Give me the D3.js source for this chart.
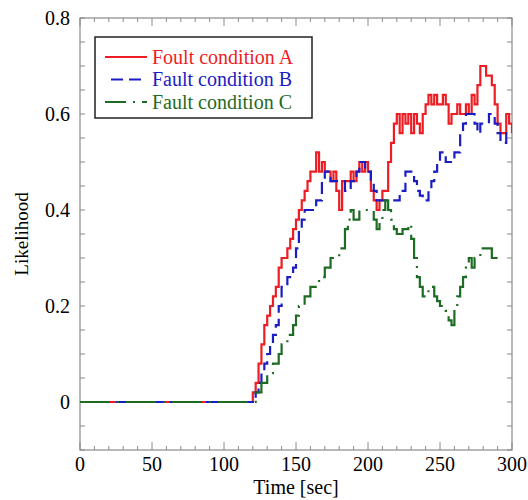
<!DOCTYPE html>
<html>
<head>
<meta charset="utf-8">
<script src="https://cdn.jsdelivr.net/npm/d3@7"></script>
<style>
  body { margin: 0; background: #fff; }
</style>
</head>
<body>
<div id="chart"></div>
<script>
// time samples [sec]
var times = [0, 120, 122, 124, 126, 128, 130, 132, 134, 136, 138, 140, 142, 144, 146, 148, 150,
  152, 154, 156, 158, 160, 162, 164, 166, 168, 170, 172, 174, 176, 178, 180, 182, 184, 186, 188,
  190, 192, 194, 196, 198, 200, 202, 204, 206, 208, 210, 212, 214, 216, 218, 220, 222, 224, 226,
  228, 230, 232, 234, 236, 238, 240, 242, 244, 246, 248, 250, 252, 254, 256, 258, 260, 262, 264,
  266, 268, 270, 272, 274, 276, 278, 280, 282, 284, 286, 288, 290, 292, 294, 296, 298, 300];

// likelihood per condition (same index as times)
var condA = [0, 0.02, 0.04, 0.08, 0.12, 0.16, 0.18, 0.20, 0.22, 0.24, 0.28, 0.30, 0.30, 0.32, 0.34, 0.36, 0.38,
  0.40, 0.42, 0.44, 0.46, 0.48, 0.48, 0.52, 0.48, 0.50, 0.48, 0.48, 0.46, 0.48, 0.44, 0.40, 0.46, 0.46, 0.46, 0.48,
  0.46, 0.48, 0.50, 0.48, 0.50, 0.48, 0.44, 0.42, 0.40, 0.42, 0.44, 0.44, 0.50, 0.54, 0.58, 0.60, 0.56, 0.60, 0.58,
  0.60, 0.56, 0.60, 0.58, 0.56, 0.60, 0.62, 0.64, 0.62, 0.64, 0.62, 0.62, 0.64, 0.62, 0.58, 0.60, 0.60, 0.62, 0.60,
  0.60, 0.62, 0.60, 0.64, 0.62, 0.66, 0.70, 0.70, 0.68, 0.68, 0.66, 0.62, 0.58, 0.56, 0.56, 0.60, 0.58, 0.56];

var condB = [0, 0, 0.02, 0.04, 0.06, 0.08, 0.10, 0.12, 0.14, 0.16, 0.20, 0.24, 0.24, 0.26, 0.26, 0.28, 0.32,
  0.36, 0.38, 0.40, 0.40, 0.40, 0.40, 0.42, 0.42, 0.46, 0.48, 0.48, 0.46, 0.46, 0.46, 0.46, 0.46, 0.44, 0.44, 0.46,
  0.46, 0.48, 0.50, 0.50, 0.48, 0.48, 0.46, 0.44, 0.42, 0.42, 0.42, 0.42, 0.42, 0.42, 0.42, 0.42, 0.44, 0.44, 0.48,
  0.48, 0.48, 0.46, 0.44, 0.43, 0.42, 0.42, 0.44, 0.46, 0.48, 0.50, 0.52, 0.52, 0.50, 0.50, 0.50, 0.52, 0.52, 0.56,
  0.58, 0.60, 0.60, 0.60, 0.58, 0.56, 0.58, 0.58, 0.58, 0.60, 0.60, 0.58, 0.56, 0.54, 0.54, 0.56, 0.56, 0.56];

// condition C stops at 290 sec
var condC = [0, 0, 0.02, 0.02, 0.04, 0.04, 0.06, 0.06, 0.08, 0.08, 0.10, 0.12, 0.12, 0.14, 0.14, 0.16, 0.18,
  0.20, 0.20, 0.22, 0.22, 0.24, 0.24, 0.24, 0.26, 0.26, 0.28, 0.28, 0.30, 0.30, 0.30, 0.32, 0.32, 0.36, 0.38, 0.40,
  0.38, 0.38, 0.40, 0.40, 0.40, 0.40, 0.40, 0.38, 0.36, 0.38, 0.40, 0.42, 0.40, 0.38, 0.36, 0.35, 0.35, 0.36, 0.36,
  0.37, 0.34, 0.30, 0.26, 0.24, 0.22, 0.22, 0.24, 0.24, 0.22, 0.21, 0.20, 0.20, 0.19, 0.17, 0.16, 0.20, 0.22, 0.24,
  0.26, 0.28, 0.30, 0.28, 0.30, 0.30, 0.32, 0.32, 0.32, 0.32, 0.30, 0.30, 0.30];

var seriesNames = ["Foult condition A", "Fault condition B", "Fault condition C"];
var seriesColors = ["#ee1d23", "#1c1cc4", "#1e6b24"];
var seriesDash = [null, "12,6", "30,7,2,7"];
var legendDashOffset = [0, 12, -37];

var xTicks = [0, 50, 100, 150, 200, 250, 300];
var yTicks = [0, 0.2, 0.4, 0.6, 0.8];

var W = 528, H = 500;
var margin = { top: 18, right: 16, bottom: 50, left: 80 };
var width = W - margin.left - margin.right,
    height = H - margin.top - margin.bottom;

var FONT = "Liberation Serif";

var svg = d3.select("#chart").append("svg")
    .attr("width", W)
    .attr("height", H);

var g = svg.append("g")
    .attr("transform", "translate(" + margin.left + "," + margin.top + ")");

var xScale = d3.scaleLinear().domain([0, 300]).range([0, width]);
var yScale = d3.scaleLinear().domain([-0.1, 0.8]).range([height, 0]);

var frameColor = "#8a8a8a";

// clip for data lines
g.append("clipPath").attr("id", "clip")
    .append("rect").attr("width", width).attr("height", height);

// frame ticks (inward), minor every 10 sec / 0.05
var xMinor = d3.range(0, 301, 10);
var yMinor = d3.range(-0.1, 0.801, 0.05);

g.append("g").selectAll("line")
    .data(xMinor).enter().append("line")
    .attr("x1", function (d) { return xScale(d); })
    .attr("x2", function (d) { return xScale(d); })
    .attr("y1", height)
    .attr("y2", function (d) { return height - (d % 50 === 0 ? 8 : 4); })
    .attr("stroke", frameColor);

g.append("g").selectAll("line")
    .data(xMinor).enter().append("line")
    .attr("x1", function (d) { return xScale(d); })
    .attr("x2", function (d) { return xScale(d); })
    .attr("y1", 0)
    .attr("y2", function (d) { return d % 50 === 0 ? 8 : 4; })
    .attr("stroke", frameColor);

g.append("g").selectAll("line")
    .data(yMinor).enter().append("line")
    .attr("x1", 0).attr("x2", 5)
    .attr("y1", function (d) { return yScale(d); })
    .attr("y2", function (d) { return yScale(d); })
    .attr("stroke", frameColor);

g.append("g").selectAll("line")
    .data(yMinor).enter().append("line")
    .attr("x1", width).attr("x2", width - 5)
    .attr("y1", function (d) { return yScale(d); })
    .attr("y2", function (d) { return yScale(d); })
    .attr("stroke", frameColor);

g.append("rect")
    .attr("width", width).attr("height", height)
    .attr("fill", "none")
    .attr("stroke", frameColor)
    .attr("stroke-width", 1.2);

// tick labels
g.append("g").selectAll("text")
    .data(xTicks).enter().append("text")
    .attr("x", function (d) { return xScale(d); })
    .attr("y", height + 21)
    .attr("text-anchor", "middle")
    .attr("font-family", FONT)
    .attr("font-size", 20)
    .text(function (d) { return d; });

g.append("g").selectAll("text")
    .data(yTicks).enter().append("text")
    .attr("x", -10)
    .attr("y", function (d) { return yScale(d); })
    .attr("dy", "0.33em")
    .attr("text-anchor", "end")
    .attr("font-family", FONT)
    .attr("font-size", 20)
    .text(function (d) { return d === 0 ? "0" : d3.format(".1f")(d); });

// axis titles
svg.append("text")
    .attr("x", margin.left + width / 2)
    .attr("y", 494)
    .attr("text-anchor", "middle")
    .attr("font-family", FONT)
    .attr("font-size", 20)
    .text("Time [sec]");

svg.append("text")
    .attr("transform", "translate(28," + (margin.top + height / 2) + ") rotate(-90)")
    .attr("text-anchor", "middle")
    .attr("font-family", FONT)
    .attr("font-size", 19)
    .text("Likelihood");

// data lines
var line = d3.line()
    .x(function (d) { return xScale(d[0]); })
    .y(function (d) { return yScale(d[1]); })
    .curve(d3.curveStepAfter);

var allSeries = [condA, condB, condC].map(function (vals) {
    return vals.map(function (v, i) { return [times[i], v]; });
});

g.append("g").attr("clip-path", "url(#clip)")
    .selectAll("path")
    .data(allSeries).enter().append("path")
    .attr("d", line)
    .attr("fill", "none")
    .attr("stroke", function (d, i) { return seriesColors[i]; })
    .attr("stroke-width", 2.2)
    .attr("stroke-dasharray", function (d, i) { return seriesDash[i]; });

// legend
var legend = svg.append("g").attr("transform", "translate(95,37)");
legend.append("rect")
    .attr("width", 217).attr("height", 81)
    .attr("fill", "#fff")
    .attr("stroke", "#222")
    .attr("stroke-width", 1.5);

var rows = legend.selectAll("g.row")
    .data(seriesNames).enter().append("g")
    .attr("transform", function (d, i) { return "translate(0," + (20 + i * 22.5) + ")"; });

rows.append("line")
    .attr("x1", 10).attr("x2", 52)
    .attr("stroke", function (d, i) { return seriesColors[i]; })
    .attr("stroke-width", 2.2)
    .attr("stroke-dasharray", function (d, i) { return seriesDash[i]; })
    .attr("stroke-dashoffset", function (d, i) { return legendDashOffset[i]; });

rows.append("text")
    .attr("x", 57)
    .attr("dy", "0.33em")
    .attr("font-family", FONT)
    .attr("font-size", 20)
    .attr("fill", function (d, i) { return seriesColors[i]; })
    .text(function (d) { return d; });
</script>
</body>
</html>
